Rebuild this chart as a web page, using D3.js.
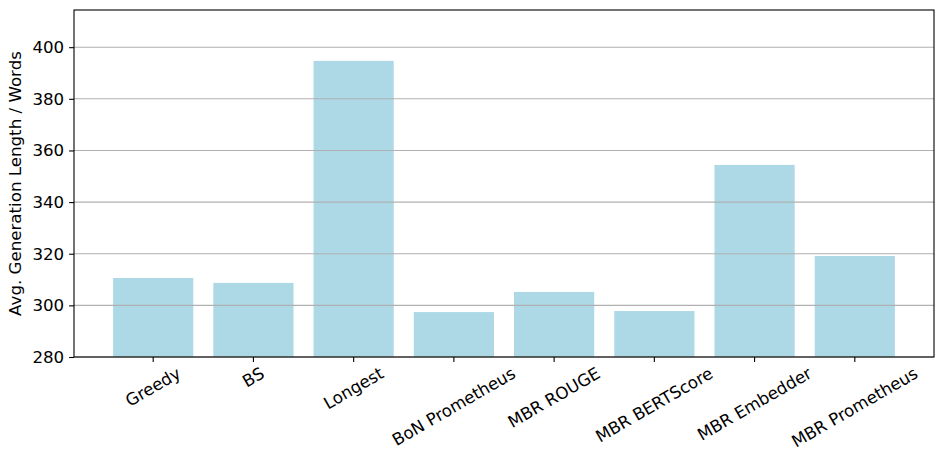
<!DOCTYPE html>
<html>
<head>
<meta charset="utf-8">
<script src="https://cdn.jsdelivr.net/npm/d3@7"></script>
<style>
  html, body { margin: 0; padding: 0; background: #fff; }
  svg text { font-family: "DejaVu Sans", sans-serif; fill: #000; }
</style>
</head>
<body>
<svg id="chart" width="935" height="451"></svg>
<script>
// Average generation length per decoding method
const categories = ["Greedy", "BS", "Longest", "BoN Prometheus", "MBR ROUGE", "MBR BERTScore", "MBR Embedder", "MBR Prometheus"];
const avgLength = [310.6, 308.7, 394.7, 297.4, 305.2, 297.8, 354.4, 319.1];
const yTicks = [280, 300, 320, 340, 360, 380, 400];
const yLabel = "Avg. Generation Length / Words";

const W = 935, H = 451;
const margin = { left: 74, right: 1, top: 10, bottom: 94 };
const plotW = W - margin.left - margin.right;
const plotH = H - margin.top - margin.bottom;

const fontSize = 16.67;
const tickLen = 4.9;
const tickPad = 4.9;
const lw = 1.1;

const svg = d3.select("#chart");
const g = svg.append("g").attr("transform", `translate(${margin.left},${margin.top})`);

// Category positions: bars of width 0.8 with 5% padding on each side
const n = categories.length;
const x = d3.scaleLinear().domain([-0.79, n - 1 + 0.79]).range([0, plotW]);
const y = d3.scaleLinear().domain([280, 414.4]).range([plotH, 0]);

// Bars
g.selectAll("rect.bar")
  .data(avgLength)
  .join("rect")
  .attr("class", "bar")
  .attr("x", (d, i) => x(i - 0.4))
  .attr("width", (d, i) => x(i + 0.4) - x(i - 0.4))
  .attr("y", d => y(d))
  .attr("height", d => y(280) - y(d))
  .attr("fill", "#add8e6");

// Horizontal gridlines, drawn over the bars
g.selectAll("line.grid")
  .data(yTicks)
  .join("line")
  .attr("class", "grid")
  .attr("x1", 0).attr("x2", plotW)
  .attr("y1", d => y(d)).attr("y2", d => y(d))
  .attr("stroke", "#b0b0b0")
  .attr("stroke-width", lw);

// Y axis
const yAxis = d3.axisLeft(y).tickValues(yTicks).tickSize(tickLen).tickPadding(tickPad);
const yg = g.append("g").call(yAxis);
yg.select(".domain").remove();
yg.selectAll(".tick line").attr("stroke", "#000").attr("stroke-width", lw);
yg.selectAll(".tick text").style("font-size", fontSize + "px").attr("fill", "#000");

// X axis ticks
const xg = g.append("g").attr("transform", `translate(0,${plotH})`);
xg.selectAll("line.xtick")
  .data(categories)
  .join("line")
  .attr("x1", (d, i) => x(i)).attr("x2", (d, i) => x(i))
  .attr("y1", 0).attr("y2", tickLen)
  .attr("stroke", "#000").attr("stroke-width", lw);

// Rotated category labels, centred under each tick
const angle = 30 * Math.PI / 180;
xg.selectAll("text.xlabel")
  .data(categories)
  .join("text")
  .attr("class", "xlabel")
  .style("font-size", fontSize + "px")
  .attr("text-anchor", "middle")
  .attr("dominant-baseline", "central")
  .text(d => d)
  .each(function (d, i) {
    const w = this.getComputedTextLength();
    const h = fontSize * 1.0;
    const bh = w * Math.sin(angle) + h * Math.cos(angle);
    const cy = tickLen + tickPad - 2 + bh / 2;
    d3.select(this).attr("transform", `translate(${x(i)},${cy}) rotate(-30)`);
  });

// Frame
g.append("rect")
  .attr("x", 0).attr("y", 0)
  .attr("width", plotW).attr("height", plotH)
  .attr("fill", "none")
  .attr("stroke", "#000")
  .attr("stroke-width", lw);

// Y axis title
svg.append("text")
  .attr("transform", `translate(15,${margin.top + plotH / 2}) rotate(-90)`)
  .attr("text-anchor", "middle")
  .attr("dominant-baseline", "central")
  .style("font-size", fontSize + "px")
  .text(yLabel);
</script>
</body>
</html>
